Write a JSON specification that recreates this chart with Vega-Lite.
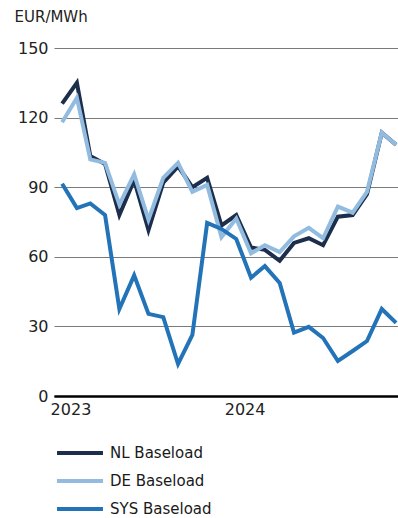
{
  "$schema": "https://vega.github.io/schema/vega-lite/v6.json",
  "width": 344,
  "height": 348,
  "autosize": {"type": "none"},
  "padding": {"left": 54, "top": 48, "right": 0, "bottom": 122},
  "background": "white",
  "config": {"view": {"stroke": null}, "font": "DejaVu Sans"},
  "data": {
    "values": [
      {"month": "2023-01-01", "series": "NL Baseload", "value": 126},
      {"month": "2023-02-01", "series": "NL Baseload", "value": 135},
      {"month": "2023-03-01", "series": "NL Baseload", "value": 103.5},
      {"month": "2023-04-01", "series": "NL Baseload", "value": 100},
      {"month": "2023-05-01", "series": "NL Baseload", "value": 78},
      {"month": "2023-06-01", "series": "NL Baseload", "value": 93},
      {"month": "2023-07-01", "series": "NL Baseload", "value": 71.5},
      {"month": "2023-08-01", "series": "NL Baseload", "value": 92},
      {"month": "2023-09-01", "series": "NL Baseload", "value": 99},
      {"month": "2023-10-01", "series": "NL Baseload", "value": 90},
      {"month": "2023-11-01", "series": "NL Baseload", "value": 94},
      {"month": "2023-12-01", "series": "NL Baseload", "value": 73.5},
      {"month": "2024-01-01", "series": "NL Baseload", "value": 78},
      {"month": "2024-02-01", "series": "NL Baseload", "value": 64},
      {"month": "2024-03-01", "series": "NL Baseload", "value": 63},
      {"month": "2024-04-01", "series": "NL Baseload", "value": 58.3},
      {"month": "2024-05-01", "series": "NL Baseload", "value": 66},
      {"month": "2024-06-01", "series": "NL Baseload", "value": 68},
      {"month": "2024-07-01", "series": "NL Baseload", "value": 65},
      {"month": "2024-08-01", "series": "NL Baseload", "value": 77.3},
      {"month": "2024-09-01", "series": "NL Baseload", "value": 78},
      {"month": "2024-10-01", "series": "NL Baseload", "value": 87},
      {"month": "2024-11-01", "series": "NL Baseload", "value": 113.5},
      {"month": "2024-12-01", "series": "NL Baseload", "value": 108.3},
      {"month": "2023-01-01", "series": "DE Baseload", "value": 118},
      {"month": "2023-02-01", "series": "DE Baseload", "value": 128.5},
      {"month": "2023-03-01", "series": "DE Baseload", "value": 102},
      {"month": "2023-04-01", "series": "DE Baseload", "value": 100.5},
      {"month": "2023-05-01", "series": "DE Baseload", "value": 82.5},
      {"month": "2023-06-01", "series": "DE Baseload", "value": 95.5},
      {"month": "2023-07-01", "series": "DE Baseload", "value": 76},
      {"month": "2023-08-01", "series": "DE Baseload", "value": 94},
      {"month": "2023-09-01", "series": "DE Baseload", "value": 100.5},
      {"month": "2023-10-01", "series": "DE Baseload", "value": 88},
      {"month": "2023-11-01", "series": "DE Baseload", "value": 91},
      {"month": "2023-12-01", "series": "DE Baseload", "value": 68.5},
      {"month": "2024-01-01", "series": "DE Baseload", "value": 76.5},
      {"month": "2024-02-01", "series": "DE Baseload", "value": 61.5},
      {"month": "2024-03-01", "series": "DE Baseload", "value": 65},
      {"month": "2024-04-01", "series": "DE Baseload", "value": 62},
      {"month": "2024-05-01", "series": "DE Baseload", "value": 68.8},
      {"month": "2024-06-01", "series": "DE Baseload", "value": 72.5},
      {"month": "2024-07-01", "series": "DE Baseload", "value": 68},
      {"month": "2024-08-01", "series": "DE Baseload", "value": 81.6},
      {"month": "2024-09-01", "series": "DE Baseload", "value": 79},
      {"month": "2024-10-01", "series": "DE Baseload", "value": 88},
      {"month": "2024-11-01", "series": "DE Baseload", "value": 113.5},
      {"month": "2024-12-01", "series": "DE Baseload", "value": 108.3},
      {"month": "2023-01-01", "series": "SYS Baseload", "value": 91.5},
      {"month": "2023-02-01", "series": "SYS Baseload", "value": 81},
      {"month": "2023-03-01", "series": "SYS Baseload", "value": 83},
      {"month": "2023-04-01", "series": "SYS Baseload", "value": 78},
      {"month": "2023-05-01", "series": "SYS Baseload", "value": 37.5},
      {"month": "2023-06-01", "series": "SYS Baseload", "value": 52},
      {"month": "2023-07-01", "series": "SYS Baseload", "value": 35.4},
      {"month": "2023-08-01", "series": "SYS Baseload", "value": 34},
      {"month": "2023-09-01", "series": "SYS Baseload", "value": 13.8},
      {"month": "2023-10-01", "series": "SYS Baseload", "value": 26.3},
      {"month": "2023-11-01", "series": "SYS Baseload", "value": 74.6},
      {"month": "2023-12-01", "series": "SYS Baseload", "value": 72},
      {"month": "2024-01-01", "series": "SYS Baseload", "value": 67.7},
      {"month": "2024-02-01", "series": "SYS Baseload", "value": 51},
      {"month": "2024-03-01", "series": "SYS Baseload", "value": 56},
      {"month": "2024-04-01", "series": "SYS Baseload", "value": 48.7},
      {"month": "2024-05-01", "series": "SYS Baseload", "value": 27.3},
      {"month": "2024-06-01", "series": "SYS Baseload", "value": 29.8},
      {"month": "2024-07-01", "series": "SYS Baseload", "value": 25},
      {"month": "2024-08-01", "series": "SYS Baseload", "value": 15.1},
      {"month": "2024-09-01", "series": "SYS Baseload", "value": 19.4},
      {"month": "2024-10-01", "series": "SYS Baseload", "value": 23.7},
      {"month": "2024-11-01", "series": "SYS Baseload", "value": 37.5},
      {"month": "2024-12-01", "series": "SYS Baseload", "value": 31.5}
    ]
  },
  "mark": {"type": "line", "strokeWidth": 4, "strokeJoin": "miter", "clip": false},
  "encoding": {
    "x": {
      "field": "month",
      "type": "temporal",
      "scale": {
        "type": "utc",
        "domain": [
          {"year": 2022, "month": 12, "date": 15, "utc": true},
          {"year": 2024, "month": 12, "date": 5, "utc": true}
        ]
      },
      "axis": {
        "title": null,
        "values": [
          {"year": 2023, "month": 1, "date": 1, "utc": true},
          {"year": 2024, "month": 1, "date": 1, "utc": true}
        ],
        "format": "%Y",
        "formatType": "utc",
        "labelAlign": "left",
        "labelOffset": -12,
        "labelPadding": 5,
        "labelFontSize": 16,
        "labelColor": "#222222",
        "ticks": false,
        "grid": false,
        "domain": true,
        "domainColor": "#000000",
        "domainWidth": 2
      }
    },
    "y": {
      "field": "value",
      "type": "quantitative",
      "scale": {"domain": [0, 150], "nice": false},
      "axis": {
        "values": [0, 30, 60, 90, 120, 150],
        "title": "EUR/MWh",
        "titleAngle": 0,
        "titleAlign": "left",
        "titleBaseline": "alphabetic",
        "titleX": -40,
        "titleY": -27,
        "titleFont": "DejaVu Sans",
        "titleFontSize": 15,
        "titleFontWeight": "normal",
        "titleColor": "#222222",
        "domain": false,
        "ticks": false,
        "labelPadding": 6,
        "labelFontSize": 16,
        "labelColor": "#222222",
        "grid": true,
        "gridColor": {"condition": {"test": "datum.value === 0", "value": "#000000"}, "value": "#7a7a7a"},
        "gridWidth": {"condition": {"test": "datum.value === 0", "value": 2}, "value": 1}
      }
    },
    "color": {
      "field": "series",
      "type": "nominal",
      "scale": {
        "domain": ["NL Baseload", "DE Baseload", "SYS Baseload"],
        "range": ["#1c2e4c", "#92bbe0", "#2373b8"]
      },
      "legend": {
        "orient": "none",
        "legendX": 18,
        "legendY": 397,
        "title": null,
        "symbolType": "M-4,0L4,0",
        "symbolSize": 132,
        "symbolStrokeWidth": 4,
        "labelFontSize": 15,
        "labelColor": "#1a1a1a",
        "labelOffset": 22,
        "rowPadding": 12
      }
    }
  }
}
